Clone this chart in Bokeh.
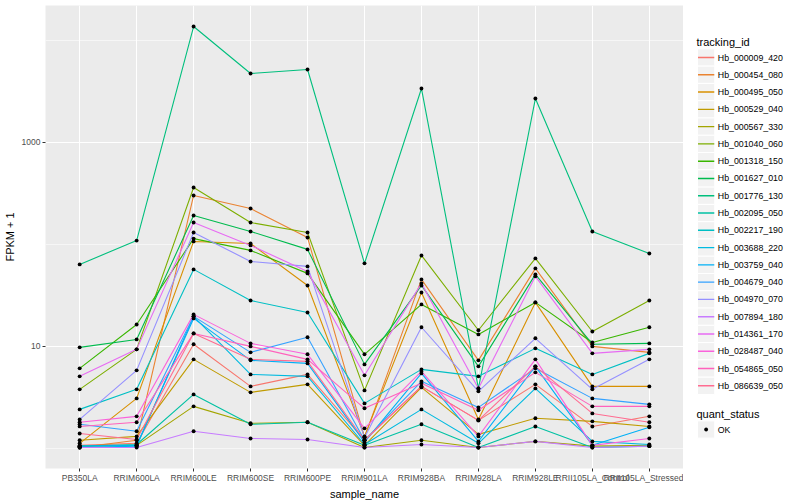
import math
from bokeh.plotting import figure
from bokeh.layouts import row
from bokeh.models import Range1d, FixedTicker, PrintfTickFormatter
from bokeh.core.properties import value
from bokeh.embed import file_html
from bokeh.resources import INLINE

# ---------------- data ----------------
samples = ["PB350LA", "RRIM600LA", "RRIM600LE", "RRIM600SE", "RRIM600PE",
           "RRIM901LA", "RRIM928BA", "RRIM928LA", "RRIM928LE",
           "RRII105LA_Control", "RRII105LA_Stressed"]

tracking_ids = ["Hb_000009_420", "Hb_000454_080", "Hb_000495_050", "Hb_000529_040",
                "Hb_000567_330", "Hb_001040_060", "Hb_001318_150", "Hb_001627_010",
                "Hb_001776_130", "Hb_002095_050", "Hb_002217_190", "Hb_003688_220",
                "Hb_003759_040", "Hb_004679_040", "Hb_004970_070", "Hb_007894_180",
                "Hb_014361_170", "Hb_028487_040", "Hb_054865_050", "Hb_086639_050"]

# FPKM + 1 per sample (order of `samples`)
hb_000009_420 = [1.07, 1.12, 10.5, 4.05, 5.31, 1.20, 4.05, 1.88, 4.24, 1.64, 2.06]
hb_000454_080 = [1.02, 1.20, 302, 225, 117, 1.28, 45.4, 7.29, 58.2, 10.0, 8.74]
hb_000495_050 = [1.12, 3.09, 107, 102, 39.6, 1.31, 33.8, 1.92, 27.0, 4.05, 4.05]
hb_000529_040 = [1.20, 1.31, 7.46, 3.54, 4.24, 1.07, 3.96, 1.37, 1.97, 1.84, 1.64]
hb_000567_330 = [1.05, 1.07, 2.58, 1.76, 1.80, 1.02, 1.20, 1.02, 1.17, 1.05, 1.07]
hb_001040_060 = [3.79, 9.35, 362, 164, 131, 3.70, 78.0, 14.4, 72.9, 14.0, 28.2]
hb_001318_150 = [6.09, 16.4, 114, 87.4, 52.0, 8.36, 25.8, 13.1, 27.0, 10.9, 15.4]
hb_001627_010 = [9.78, 11.7, 192, 134, 89.4, 6.66, 39.6, 6.37, 50.8, 10.5, 10.7]
hb_001776_130 = [63.7, 109, 13710, 4744, 5196, 65.2, 3381, 3.87, 2698, 134, 81.6]
hb_002095_050 = [1.05, 1.09, 3.38, 1.72, 1.80, 1.07, 1.72, 1.02, 1.64, 1.02, 1.05]
hb_002217_190 = [2.41, 3.79, 56.9, 28.2, 21.5, 2.76, 5.95, 5.08, 9.56, 5.31, 8.54]
hb_003688_220 = [1.02, 1.05, 19.7, 5.31, 5.08, 1.09, 2.41, 1.12, 3.87, 1.17, 1.09]
hb_003759_040 = [1.05, 1.07, 18.8, 7.29, 6.81, 1.15, 5.43, 1.17, 6.37, 1.07, 1.61]
hb_004679_040 = [1.72, 1.47, 19.7, 8.74, 12.3, 1.20, 4.54, 2.52, 6.09, 3.09, 2.70]
hb_004970_070 = [1.92, 5.82, 131, 68.1, 60.9, 1.28, 15.4, 3.62, 12.0, 3.79, 7.46]
hb_007894_180 = [1.02, 1.02, 1.47, 1.25, 1.22, 1.02, 1.09, 1.02, 1.17, 1.02, 1.05]
hb_014361_170 = [5.08, 9.35, 164, 97.8, 54.4, 5.20, 41.5, 3.87, 48.6, 8.54, 9.35]
hb_028487_040 = [1.80, 2.06, 20.6, 10.7, 8.36, 1.57, 5.69, 1.31, 7.46, 1.07, 1.25]
hb_054865_050 = [1.64, 1.80, 13.4, 10.0, 7.46, 2.47, 4.34, 2.36, 5.56, 2.58, 2.58]
hb_086639_050 = [1.40, 1.22, 13.4, 7.46, 7.13, 1.20, 4.05, 1.88, 6.37, 2.20, 1.80]

series = [hb_000009_420, hb_000454_080, hb_000495_050, hb_000529_040, hb_000567_330,
          hb_001040_060, hb_001318_150, hb_001627_010, hb_001776_130, hb_002095_050,
          hb_002217_190, hb_003688_220, hb_003759_040, hb_004679_040, hb_004970_070,
          hb_007894_180, hb_014361_170, hb_028487_040, hb_054865_050, hb_086639_050]

quant_status = ["OK"]

# ---------------- style ----------------
palette = ["#F8766D", "#EA8331", "#D89000", "#C09B00", "#A3A500", "#7CAE00", "#39B600",
           "#00BB4E", "#00BF7D", "#00C1A3", "#00BFC4", "#00BAE0", "#00B0F6", "#35A2FF",
           "#9590FF", "#C77CFF", "#E76BF3", "#FA62DB", "#FF62BC", "#FF6C91"]
FONT = "Liberation Sans"
TOP = 5          # frame top border
FH = 463         # frame height
FW = 638         # frame width
LEFT = 45        # left border (y axis)
BOTTOM = 29      # bottom border (x axis)
W_LEG = 104

xs = list(range(len(samples)))
all_logs = [math.log10(v) for s in series for v in s]
lmin, lmax = min(all_logs), max(all_logs)
pad = 0.05 * (lmax - lmin)

p = figure(frame_width=FW, frame_height=FH,
           x_range=Range1d(-0.6, len(samples) - 1 + 0.6),
           y_range=Range1d(10 ** (lmin - pad), 10 ** (lmax + pad)),
           y_axis_type="log", output_backend="svg", toolbar_location=None,
           min_border_left=LEFT, min_border_right=0, min_border_top=TOP,
           min_border_bottom=BOTTOM)
p.background_fill_color = "#EBEBEB"
p.border_fill_color = "white"
p.outline_line_color = None

for vals, col in zip(series, palette):
    p.line(xs, vals, line_color=col, line_width=1.1)

px = [x for s in series for x in xs]
py = [v for s in series for v in s]
p.scatter(px, py, size=3.9, fill_color="black", line_color=None)

p.xaxis.ticker = FixedTicker(ticks=xs)
p.xaxis.major_label_overrides = {i: s for i, s in enumerate(samples)}
p.yaxis.ticker = FixedTicker(ticks=[10, 1000, 100000], minor_ticks=[1, 100, 10000])
p.yaxis.formatter = PrintfTickFormatter(format="%d")
p.xaxis.axis_label = "sample_name"
p.yaxis.axis_label = "FPKM + 1"

for ax in (p.xaxis[0], p.yaxis[0]):
    ax.axis_line_color = None
    ax.major_tick_line_color = "#333333"
    ax.major_tick_out = 3
    ax.major_tick_in = 0
    ax.minor_tick_line_color = None
    ax.major_label_text_font = FONT
    ax.major_label_text_font_size = "8.5px"
    ax.major_label_text_color = "#4D4D4D"
    ax.axis_label_text_font = FONT
    ax.axis_label_text_font_size = "11px"
    ax.axis_label_text_font_style = "normal"
    ax.axis_label_text_color = "black"

p.xaxis.major_label_standoff = 1
p.xaxis.axis_label_standoff = 2
p.yaxis.major_label_standoff = 1
p.yaxis.axis_label_standoff = 3

p.xgrid.grid_line_color = "white"
p.xgrid.grid_line_width = 1.1
p.ygrid.grid_line_color = "white"
p.ygrid.grid_line_width = 1.1
p.ygrid.minor_grid_line_color = "white"
p.ygrid.minor_grid_line_width = 0.55

# ---------------- legend panel (coordinates = pixels from figure top) ----------------
lg = figure(frame_width=W_LEG, frame_height=FH,
            x_range=Range1d(0, W_LEG), y_range=Range1d(TOP + FH, TOP),
            x_axis_location=None, y_axis_location=None,
            output_backend="svg", toolbar_location=None,
            min_border_left=0, min_border_right=0, min_border_top=TOP,
            min_border_bottom=BOTTOM)
lg.outline_line_color = None
lg.background_fill_color = "white"
lg.border_fill_color = "white"
lg.grid.visible = False

key = 17.28
kx0 = 14.0
row0 = 57.0
rows = [row0 + key * i for i in range(len(tracking_ids))]
lg.rect(x=[kx0 + key / 2] * len(rows), y=rows, width=key, height=key,
        fill_color="#F2F2F2", line_color="white", line_width=1)
lg.segment(x0=[kx0 + 0.5] * len(rows), x1=[kx0 + key - 0.5] * len(rows), y0=rows, y1=rows,
           line_color=palette, line_width=1.4)
lg.text(x=[kx0 + key + 3] * len(rows), y=rows, text=tracking_ids,
        text_font=value(FONT), text_font_size=value("8.8px"),
        text_baseline="middle", text_align="left", text_color="black")
lg.text(x=[kx0 - 1], y=[41], text=["tracking_id"], text_font=value(FONT),
        text_font_size=value("11px"), text_baseline="middle", text_align="left",
        text_color="black")

qy = 429.0
lg.text(x=[kx0 - 1], y=[qy - 16], text=["quant_status"], text_font=value(FONT),
        text_font_size=value("11px"), text_baseline="middle", text_align="left",
        text_color="black")
lg.rect(x=[kx0 + key / 2], y=[qy], width=key, height=key,
        fill_color="#F2F2F2", line_color="white", line_width=1)
lg.scatter(x=[kx0 + key / 2], y=[qy], size=3.8, fill_color="black", line_color=None)
lg.text(x=[kx0 + key + 3], y=[qy], text=quant_status, text_font=value(FONT),
        text_font_size=value("8.8px"), text_baseline="middle", text_align="left",
        text_color="black")

layout = row(p, lg)
open("out.html", "w").write(file_html(layout, INLINE))
